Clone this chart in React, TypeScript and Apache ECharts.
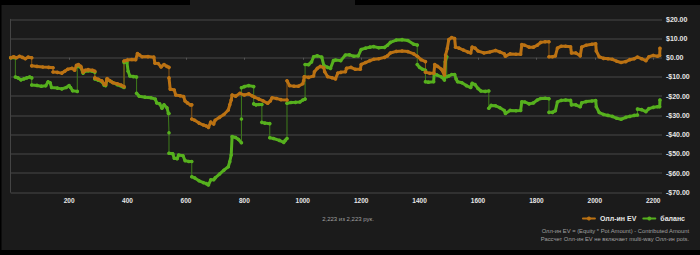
import React, { useEffect, useRef } from "react";
import * as echarts from "echarts";

// [hand, value] — consecutive points with the same hand are vertical jumps
const evPoints: number[][] = [
  [0,0],[10,0.5],[20,0],[30,0.8],[40,0.2],[50,-0.5],[60,0.3],[72,0],
  [72,-4.2],[90,-4.5],[110,-4.8],[130,-5],[145,-5.2],
  [145,-7.4],[160,-7.6],[175,-8],[185,-7],[195,-6],[210,-5.5],[219,-6.5],[225,-4],[232,-3.6],[240,-4.5],[248,-7.5],[255,-6.5],[265,-6.2],[280,-6.5],[288,-7],
  [288,-10.5],[300,-11.2],[312,-12],[320,-13.8],[325,-14],[330,-10.8],[340,-12],[350,-13],[365,-13.5],[378,-14.2],[388,-15],
  [388,-1.7],[400,-1.2],[415,-0.9],[428,-1],[434,2.2],[440,1.5],[450,0.5],[470,0.6],[490,0.3],[494,-2.8],[505,-3],[515,-4.8],[525,-3.5],[535,-4.5],[542,-5],
  [542,-10.5],[546,-16.3],[560,-16.8],[565,-19.4],[580,-19.8],[592,-20.2],[597,-22.5],[605,-23.5],[615,-24.5],[620,-24.5],
  [620,-31.9],[630,-32.5],[645,-34],[660,-35],[670,-35.5],[677,-36.2],[685,-33.5],[695,-34.5],[700,-32.5],[715,-31],[730,-29.5],[745,-27.2],[750,-24.5],[755,-22],[758,-19.4],[770,-20],[785,-18.5],[800,-19.4],[815,-18.8],[826,-19.8],[835,-20.5],[850,-21.5],[865,-22.5],[880,-23.7],[889,-22.5],[895,-20.8],[910,-21.2],[925,-21.8],[946,-22],
  [946,-12],[955,-14.5],[970,-14.8],[985,-14.8],[1000,-13.5],[1003,-12],[1005,-9.9],[1020,-10.2],[1037,-9.5],[1040,-7.3],[1050,-5.5],[1060,-4.5],[1072,-5.2],[1075,-7.3],[1085,-9.8],[1100,-10.4],[1112,-11],[1120,-8],[1130,-7.6],[1146,-7.3],[1150,-5.5],[1165,-5],[1180,-6],[1197,-6],[1200,-3.5],[1215,-2.5],[1230,-1.5],[1243,-0.8],[1260,-0.5],[1280,0.2],[1290,1],[1300,2.5],[1320,3.3],[1340,3.5],[1360,3.2],[1380,2],[1392,0.8],[1405,-1],[1420,-2],
  [1420,-7.5],[1435,-8.1],[1449,-8],[1452,-3.5],[1462,-4.5],[1475,-6],[1485,-9],[1489,1.4],[1495,4.9],[1500,9.5],[1510,10.5],[1520,10],[1523,5.5],[1535,5],[1550,4],[1565,3],[1575,2.5],[1580,5.5],[1590,5],[1600,3.5],[1620,2.5],[1640,3],[1660,3.8],[1675,3],[1690,2],[1694,0.8],[1710,2],[1730,1.8],[1746,1.8],[1750,6.9],[1760,6.5],[1775,5.5],[1790,5.5],[1803,6.5],[1815,8],[1830,8.3],[1843,8.3],
  [1843,0.5],[1855,0.5],[1865,1],[1872,5],[1885,6],[1900,6],[1917,5.7],[1920,2.5],[1935,2.5],[1950,1],[1955,5.5],[1970,6.5],[1990,7],[2003,7.3],[2005,3.5],[2015,0.5],[2030,-0.3],[2045,-0.5],[2060,-0.8],[2075,-1.8],[2090,-2.5],[2106,-2],[2120,-1],[2135,-0.5],[2146,0.3],[2160,-0.5],[2175,-1.5],[2185,0.5],[2200,1.2],[2215,0.8],[2222,1.2],[2223,4.9],
];

const balancePoints: number[][] = [
  [0,0],[16,0],
  [16,-10],[25,-10.5],[35,-11.5],[45,-11],[55,-10.5],[65,-10],[72,-10.5],
  [72,-14.2],[90,-14.4],[105,-14.8],[120,-14.6],[128,-12.5],[135,-13],[140,-15.5],[160,-15.8],[175,-16.2],[190,-15.5],[200,-14.5],[205,-15.5],[212,-17.2],[228,-17.5],
  [228,-4.5],[240,-5],[248,-8],[255,-7],[265,-6.8],[280,-7],[288,-7.5],
  [288,-11],[300,-11.7],[312,-12.5],[320,-14.3],[325,-14.5],[330,-11.3],[345,-12.5],[365,-14],[388,-15.5],
  [388,-2.4],[398,-2.4],[402,-7],[408,-9.5],[420,-9.8],[431,-10],
  [431,-18.5],[440,-20],[460,-20.5],[480,-20.8],[495,-21.5],[500,-23.5],[510,-24],[518,-26.3],[525,-24.5],[535,-26],[540,-29],[542,-29],
  [542,-39],[542,-49.7],[555,-50],[560,-52.3],[570,-52.5],[575,-50.6],[590,-51],[597,-53.5],[610,-54],[620,-54],
  [620,-61.9],[630,-62.5],[645,-64],[660,-65],[670,-65.5],[677,-66.2],[685,-63.5],[695,-63.5],[700,-62.5],[715,-60.5],[730,-58.5],[745,-56.7],[750,-54.1],[755,-50.6],[758,-41],[770,-41.5],[780,-42.5],[790,-44.2],
  [790,-31.9],[790,-15.6],[800,-15],[815,-14.5],[832,-15],
  [832,-24],[840,-24.5],[850,-24.3],[860,-24.3],
  [860,-33.6],[870,-34],[887,-34.3],
  [887,-41.6],[900,-42],[920,-43],[935,-44],[940,-43],[946,-42],
  [946,-23.7],[960,-23.3],[975,-23.2],[990,-23],[1000,-22],[1008,-21.5],
  [1008,-3.5],[1020,-3.6],[1030,-2.2],[1037,0.5],[1050,1],[1065,0.3],[1072,-4],[1085,-5],[1095,-5.5],[1105,-1.5],[1112,-1.2],[1130,-1.5],[1146,1.4],[1160,1.5],[1175,0.8],[1190,1],[1200,4.3],[1215,5],[1230,5.5],[1243,5.8],[1260,5.2],[1280,5.4],[1290,6.5],[1300,8],[1320,9.2],[1340,9.4],[1360,9],[1380,7],[1392,6.6],
  [1392,-3.5],[1400,-5],[1410,-6],[1420,-6.5],
  [1420,-12.5],[1430,-12.7],[1448,-12.5],[1450,-8.5],[1460,-9],[1475,-10],[1485,-11.6],[1488,-2.1],[1493,0.5],
  [1493,-9.9],[1500,-9.5],[1510,-8.7],[1520,-8.7],[1525,-11],[1530,-12.5],[1545,-13],[1560,-14.5],[1575,-15.5],[1580,-13.3],[1590,-14],[1600,-16],[1610,-17.3],[1625,-17.5],[1637,-17.3],
  [1637,-26.3],[1645,-24.8],[1660,-25],[1675,-26],[1690,-27.5],[1694,-29],[1710,-27.4],[1730,-27.6],[1746,-27.4],[1750,-22.9],[1760,-23],[1775,-24],[1790,-23.5],[1803,-22],[1815,-21.2],[1830,-21.1],[1843,-21.3],
  [1843,-28.4],[1855,-28.4],[1865,-27.5],[1872,-23],[1885,-22.2],[1900,-22],[1917,-22.2],[1920,-24.5],[1935,-24.5],[1950,-25.5],[1955,-23.5],[1970,-22.8],[1990,-22.5],[2003,-22.3],[2005,-25.5],[2015,-28.5],[2030,-29.5],[2045,-30],[2060,-30.5],[2075,-31.5],[2090,-32],[2106,-31],[2120,-30.5],[2135,-30],[2146,-29.8],
  [2146,-26.7],[2160,-27],[2175,-28],[2185,-26.5],[2200,-25.8],[2215,-25.5],[2222,-25.5],[2223,-22],
];

const seriesNames = ["Олл-ин EV", "баланс"];
const handsShown = "2,223 из 2,223 рук.";
const footnotes = [
  "Олл-ин EV = (Equity * Pot Amount) - Contributed Amount",
  "Рассчет Олл-ин EV не включает multi-way Олл-ин pots.",
];
const yMin = -70, yMax = 20, yStep = 10;
const xMin = 0, xMax = 2230, xStep = 200;

function withBreaks(points: number[][]) {
  const out: any[] = [];
  points.forEach((p, i) => {
    if (i > 0 && points[i - 1][0] === p[0]) out.push([p[0], "-"]);
    out.push(p);
  });
  return out;
}

const FONT = "'Liberation Sans', Arial, sans-serif";

export default function App() {
  const ref = useRef<HTMLDivElement>(null);
  useEffect(() => {
    const chart = echarts.init(ref.current!, undefined, { renderer: "svg" });
    const orange = "#bb7213";
    const green = "#56b01e";
    chart.setOption({
      animation: false,
      backgroundColor: "#1b1b1b",
      grid: { left: 10.7, right: 38, top: 19.3, bottom: 62.7 },
      xAxis: {
        type: "value",
        min: xMin,
        max: xMax,
        interval: xStep,
        axisLine: { show: false },
        axisTick: { show: true, length: 2, lineStyle: { color: "#555" } },
        splitLine: { show: false },
        axisLabel: {
          color: "#e6e6e6",
          fontSize: 6.5,
          fontWeight: "bold",
          fontFamily: FONT,
          margin: 5,
          showMinLabel: false,
          showMaxLabel: false,
          formatter: (v: number) => (v % xStep === 0 ? String(v) : ""),
        },
      },
      yAxis: {
        type: "value",
        position: "right",
        min: yMin,
        max: yMax,
        interval: yStep,
        axisLine: { show: true, lineStyle: { color: "#444", width: 1 } },
        axisTick: { show: false },
        splitLine: { show: true, lineStyle: { color: "#3a3a3a", width: 1.5 } },
        axisLabel: {
          color: "#e6e6e6",
          fontSize: 7,
          fontWeight: "bold",
          fontFamily: FONT,
          margin: 4,
          formatter: (v: number) =>
            (v < 0 ? "-$" : "$") + Math.abs(v).toFixed(2),
        },
      },
      legend: {
        data: seriesNames,
        right: 10,
        top: 210,
        itemWidth: 12,
        itemHeight: 5,
        itemGap: 6,
        textStyle: {
          color: "#e6e6e6",
          fontSize: 7,
          fontWeight: "bold",
          fontFamily: FONT,
        },
      },
      graphic: [
        { type: "rect", shape: { x: 0, y: 0, width: 190, height: 5 }, style: { fill: "#000" }, silent: true },
        { type: "rect", shape: { x: 355, y: 0, width: 345, height: 5 }, style: { fill: "#000" }, silent: true },
        { type: "rect", shape: { x: 0, y: 0, width: 1.5, height: 255 }, style: { fill: "#000" }, silent: true },
        { type: "rect", shape: { x: 0, y: 250, width: 700, height: 5 }, style: { fill: "#000" }, silent: true },
        {
          type: "text",
          x: 348,
          y: 219,
          style: {
            text: handsShown,
            fill: "#a0a0a0",
            fontSize: 6,
            fontFamily: FONT,
            textAlign: "center",
            textVerticalAlign: "middle",
          },
        },
        ...footnotes.map((t, i) => ({
          type: "text",
          x: 689,
          y: 231 + i * 7.5,
          style: {
            text: t,
            fill: "#a0a0a0",
            fontSize: 5.8,
            fontFamily: FONT,
            textAlign: "right",
            textVerticalAlign: "middle",
          },
        })),
      ],
      series: [
        {
          name: seriesNames[0],
          type: "line",
          data: withBreaks(evPoints),
          connectNulls: false,
          color: orange,
          lineStyle: { width: 3, color: orange, cap: "round", join: "round" },
          symbol: "circle",
          symbolSize: 3.6,
          showSymbol: true,
          itemStyle: { color: orange },
          z: 5,
        },
        {
          name: seriesNames[1],
          type: "line",
          data: withBreaks(balancePoints),
          connectNulls: false,
          color: green,
          lineStyle: { width: 3, color: green, cap: "round", join: "round" },
          symbol: "circle",
          symbolSize: 3.6,
          showSymbol: true,
          itemStyle: { color: green },
          z: 4,
        },
        {
          name: seriesNames[0],
          type: "line",
          data: evPoints,
          showSymbol: false,
          symbol: "none",
          lineStyle: { width: 1, color: "#8a5512" },
          z: 3,
        },
        {
          name: seriesNames[1],
          type: "line",
          data: balancePoints,
          showSymbol: false,
          symbol: "none",
          lineStyle: { width: 1, color: "#3f7d1b" },
          z: 2,
        },
      ],
    });
    return () => chart.dispose();
  }, []);
  return (
    <div
      ref={ref}
      style={{ position: "fixed", left: 0, top: 0, width: 700, height: 255, background: "#000" }}
    />
  );
}
